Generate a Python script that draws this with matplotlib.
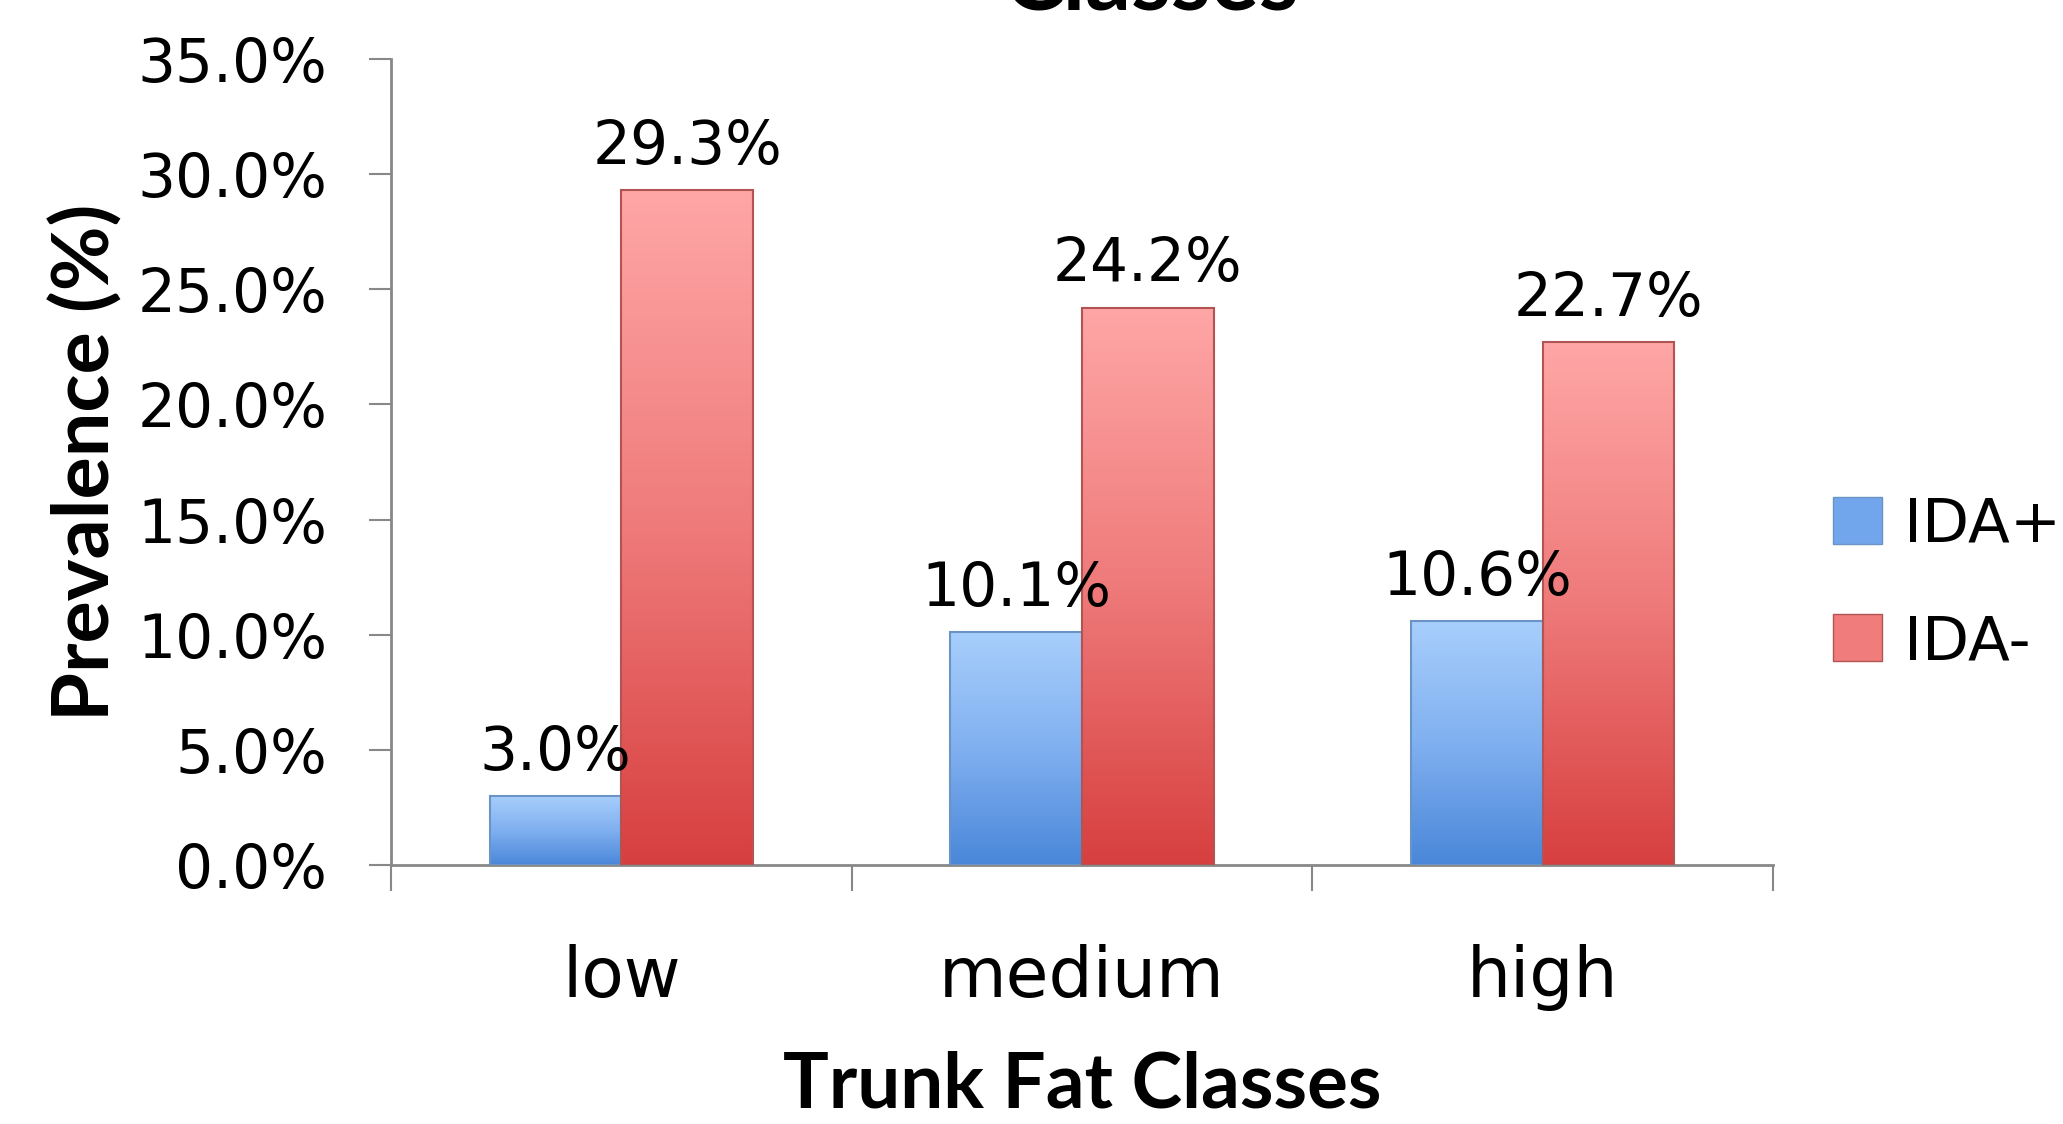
import matplotlib
matplotlib.use('Agg')
import numpy as np
import matplotlib.pyplot as plt
from matplotlib.colors import LinearSegmentedColormap
from matplotlib.patches import Patch

categories = ['low', 'medium', 'high']
ida_pos = [3.0, 10.1, 10.6]
ida_neg = [29.3, 24.2, 22.7]
series = ['IDA+', 'IDA-']

blue_cm = LinearSegmentedColormap.from_list('b', ['#a8cffc', '#80b0f0', '#4a87d9'])
red_cm = LinearSegmentedColormap.from_list('r', ['#ffa6a6', '#ef7a7a', '#d73f3f'])

fig = plt.figure(figsize=(20.63, 11.24), dpi=100)
ax = fig.add_axes([391/2063, 1-865/1124, (1773-391)/2063, (865-59)/1124])

x = np.arange(len(categories))
w = 0.2857
grad = np.linspace(0, 1, 256).reshape(-1, 1)

# gradient-filled bars: imshow clipped to each bar patch
def gbars(xs, vals, cm, edge):
    bars = ax.bar(xs, vals, w, align='edge', facecolor='none', edgecolor=edge, linewidth=1.5, zorder=3)
    for b in bars:
        x0, y0 = b.get_x(), b.get_y()
        im = ax.imshow(grad, cmap=cm, aspect='auto', origin='upper',
                       extent=(x0, x0 + b.get_width(), y0, y0 + b.get_height()), zorder=2)
        im.set_clip_path(b)
    return bars

gbars(x - w, ida_pos, blue_cm, '#6a94c6')
gbars(x, ida_neg, red_cm, '#b25454')

for xs, vals in [(x - w/2, ida_pos), (x + w/2, ida_neg)]:
    for xi, v in zip(xs, vals):
        ax.annotate('%.1f%%' % v, (xi, v), xytext=(0, 19), textcoords='offset points',
                    ha='center', va='baseline', fontsize=43, family='DejaVu Sans')

ax.set_xlim(-0.5, 2.5)
ax.set_ylim(0, 35)
ax.set_yticks(np.arange(0, 36, 5))
ax.set_yticklabels(['%.1f%%' % t for t in np.arange(0, 36, 5)], fontsize=43, family='DejaVu Sans')
ax.set_xticks([-0.5, 0.5, 1.5, 2.5])
ax.set_xticklabels([])
ax.set_xticks(x, minor=True)
ax.set_xticklabels(categories, minor=True, fontsize=50, family='DejaVu Sans')
ax.tick_params(axis='x', which='major', length=19, width=1.5, color='#888888', direction='out')
ax.tick_params(axis='x', which='minor', length=0, pad=57)
ax.tick_params(axis='y', length=16, width=1.5, color='#888888', pad=30)

for s in ['top', 'right']:
    ax.spines[s].set_visible(False)
for s in ['left', 'bottom']:
    ax.spines[s].set_color('#888888')
    ax.spines[s].set_linewidth(2)

fig.text(86/2063, 1-462/1124, 'Prevalence (%)', rotation=90, ha='center', va='center',
         fontsize=57, fontweight='bold', family='Lato')
fig.text(1082/2063, 1-1085/1124, 'Trunk Fat Classes', ha='center', va='center',
         fontsize=55, fontweight='bold', family='Lato')
fig.text(1151/2063, 1-9/1124, 'Classes', ha='center', va='baseline',
         fontsize=65, fontweight='bold', family='Lato')

handles = [Patch(facecolor='#72a6ec', edgecolor='#6a94c6'),
           Patch(facecolor='#f07c7c', edgecolor='#b25454')]
fig.legend(handles, series, loc='center left', bbox_to_anchor=(1833/2063, 1-584/1124),
           frameon=False, borderpad=0, borderaxespad=0, handlelength=0.8, handleheight=0.8,
           handletextpad=0.36, labelspacing=0.95, prop={'family': 'DejaVu Sans', 'size': 44})

fig.savefig('out.png', dpi=100)
